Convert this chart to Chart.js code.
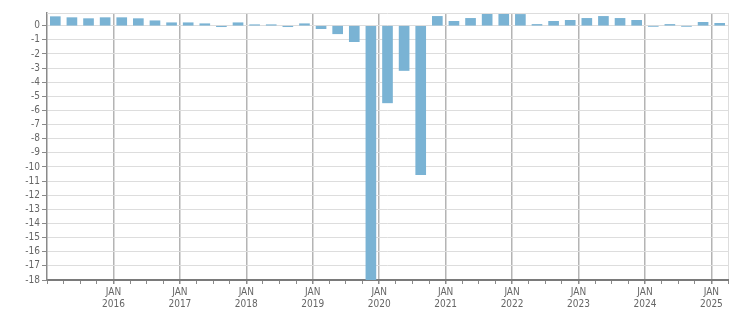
<!DOCTYPE html>
<html>
<head>
<meta charset="utf-8">
<script src="https://cdn.jsdelivr.net/npm/chart.js@4/dist/chart.umd.min.js"></script>
<style>
html,body{margin:0;padding:0;background:#fff;}
#wrap{width:751px;height:313px;position:relative;}
</style>
</head>
<body>
<div id="wrap"><canvas id="c" width="751" height="313"></canvas></div>
<script>
const quarters = [
  '2015 Q1','2015 Q2','2015 Q3','2015 Q4',
  '2016 Q1','2016 Q2','2016 Q3','2016 Q4',
  '2017 Q1','2017 Q2','2017 Q3','2017 Q4',
  '2018 Q1','2018 Q2','2018 Q3','2018 Q4',
  '2019 Q1','2019 Q2','2019 Q3','2019 Q4',
  '2020 Q1','2020 Q2','2020 Q3','2020 Q4',
  '2021 Q1','2021 Q2','2021 Q3','2021 Q4',
  '2022 Q1','2022 Q2','2022 Q3','2022 Q4',
  '2023 Q1','2023 Q2','2023 Q3','2023 Q4',
  '2024 Q1','2024 Q2','2024 Q3','2024 Q4',
  '2025 Q1'
];
const values = [
  0.64, 0.57, 0.50, 0.57,
  0.57, 0.50, 0.35, 0.21,
  0.21, 0.14, -0.07, 0.21,
  0.07, 0.07, -0.07, 0.14,
  -0.21, -0.57, -1.13, -18.0,
  -5.46, -3.17, -10.55, 0.66,
  0.31, 0.52, 0.87, 0.87,
  0.80, 0.09, 0.31, 0.38,
  0.52, 0.66, 0.52, 0.38,
  -0.05, 0.09, -0.05, 0.24,
  0.17
];
const yearLabels = ['2016','2017','2018','2019','2020','2021','2022','2023','2024','2025'];
const monthLabel = 'JAN';
const yTickMin = -18;
const yTickMax = 0.9;

const points = values.map((v, i) => ({x: i + 0.5, y: v}));

const FONT = {family: "'DejaVu Sans Condensed','DejaVu Sans',sans-serif", size: 10};

const topLine = {
  id: 'topLine',
  afterDatasetsDraw(chart) {
    const {ctx, chartArea} = chart;
    ctx.save();
    ctx.strokeStyle = '#dddddd';
    ctx.lineWidth = 1;
    ctx.beginPath();
    ctx.moveTo(chartArea.left, Math.round(chartArea.top) + 0.5);
    ctx.lineTo(chartArea.right, Math.round(chartArea.top) + 0.5);
    ctx.stroke();
    ctx.restore();
  }
};

new Chart(document.getElementById('c'), {
  type: 'bar',
  data: {
    labels: quarters,
    datasets: [{
      data: points,
      backgroundColor: '#7ab3d4',
      borderWidth: 0,
      barThickness: 10
    }]
  },
  options: {
    responsive: false,
    animation: false,
    events: [],
    layout: {padding: {top: 13, right: 23, left: 0, bottom: 0}},
    plugins: {legend: {display: false}, tooltip: {enabled: false}},
    scales: {
      x: {
        type: 'linear',
        min: 0,
        max: quarters.length,
        offset: false,
        afterFit(s) { s.height = 33; },
        border: {color: '#7a7a7a', width: 2},
        grid: {
          offset: false,
          drawOnChartArea: true,
          tickLength: 4,
          lineWidth(ctx) {
            const v = ctx.tick ? ctx.tick.value : -1;
            return (v > 0 && v % 4 === 0 && v < quarters.length) ? 1.5 : 1;
          },
          color(ctx) {
            const v = ctx.tick ? ctx.tick.value : -1;
            if (v === quarters.length) return '#dddddd';
            if (v > 0 && v % 4 === 0) return '#b4b4b4';
            return 'rgba(0,0,0,0)';
          },
          tickColor: '#8a8a8a'
        },
        ticks: {
          stepSize: 1,
          autoSkip: false,
          maxRotation: 0,
          minRotation: 0,
          padding: 2,
          color: '#666666',
          font: FONT,
          callback(v) {
            if (v > 0 && v < quarters.length && v % 4 === 0) {
              return [monthLabel, yearLabels[v / 4 - 1]];
            }
            return '';
          }
        }
      },
      y: {
        min: yTickMin,
        max: yTickMax,
        afterFit(s) { s.width = 47; },
        border: {color: '#8a8a8a', width: 1.5},
        grid: {color: '#dddddd', lineWidth: 1, tickLength: 5, tickColor: '#8a8a8a'},
        ticks: {
          stepSize: 1,
          autoSkip: false,
          includeBounds: false,
          padding: 2,
          color: '#666666',
          font: FONT
        }
      }
    }
  },
  plugins: [topLine]
});
</script>
</body>
</html>
